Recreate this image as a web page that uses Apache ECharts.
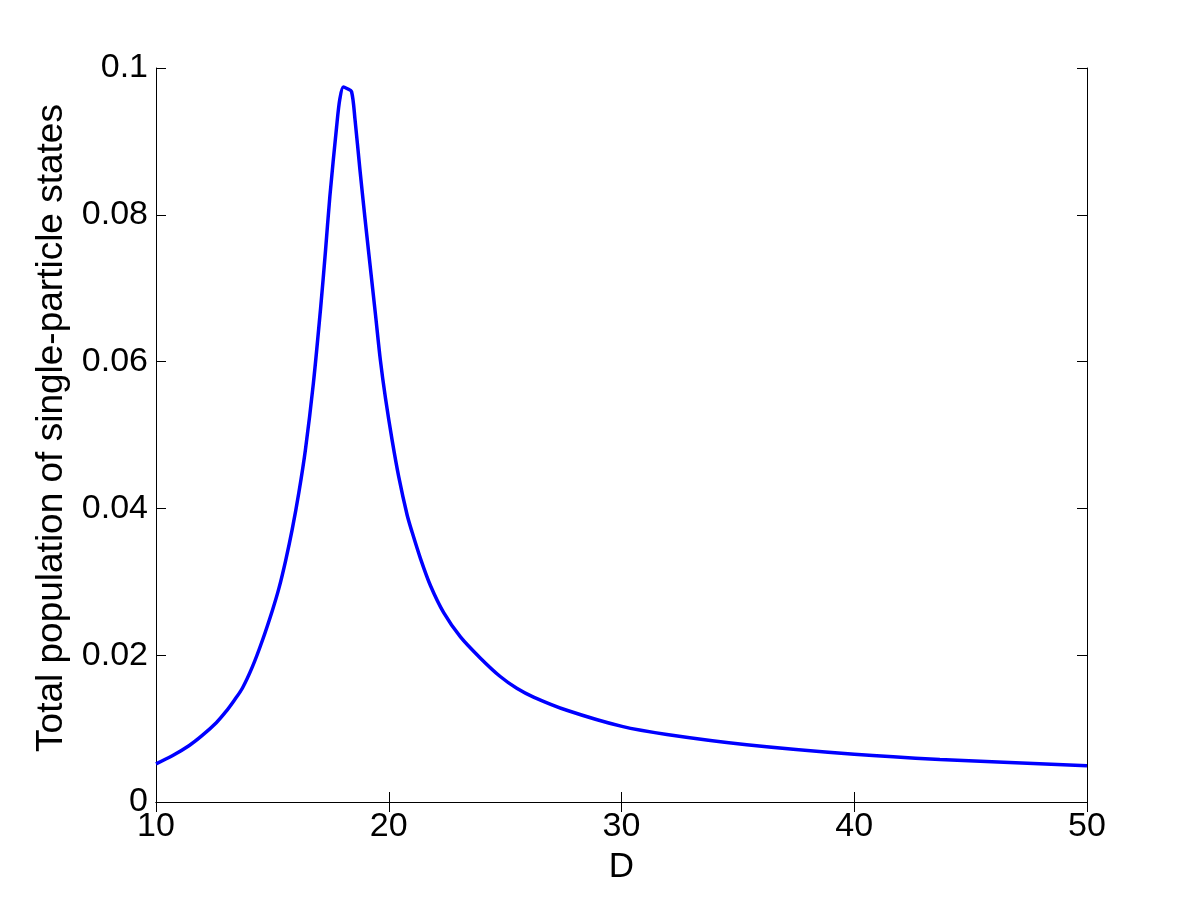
<!DOCTYPE html>
<html>
<head>
<meta charset="utf-8">
<script src="https://cdn.jsdelivr.net/npm/echarts@6/dist/echarts.min.js"></script>
<style>
html,body{margin:0;padding:0;background:#fff;}
#chart{width:1201px;height:901px;}
</style>
</head>
<body>
<div id="chart"></div>
<script>
const D = [10.0, 10.7, 11.43, 12.0, 12.59, 13.0, 13.35, 13.71, 14.14, 14.57, 15.0, 15.28, 15.57, 15.85, 16.14, 16.42, 16.76, 17.07, 17.28, 17.47, 17.76, 17.9, 18.05, 18.2, 18.4, 18.55, 18.76, 18.98, 19.14, 19.43, 19.64, 19.86, 20.15, 20.43, 20.79, 21.0, 21.36, 21.79, 22.36, 23.08, 23.94, 24.79, 25.5, 26.22, 27.65, 30.02, 31.95, 35.38, 40.0, 43.68, 50.0];
const population = [0.0052, 0.0063, 0.0077, 0.0091, 0.0108, 0.0123, 0.0138, 0.0155, 0.0184, 0.0220, 0.0261, 0.0291, 0.0329, 0.0371, 0.0422, 0.0480, 0.0570, 0.0672, 0.0750, 0.0825, 0.0920, 0.0958, 0.0974, 0.0972, 0.0968, 0.0930, 0.0862, 0.0795, 0.0748, 0.0664, 0.0602, 0.0550, 0.0492, 0.0443, 0.0391, 0.0368, 0.0332, 0.0295, 0.0258, 0.0225, 0.0196, 0.0171, 0.0155, 0.0143, 0.0125, 0.0103, 0.0092, 0.0078, 0.0065, 0.0058, 0.00495];
const xTicks = [10, 20, 30, 40, 50];
const yTicks = [0, 0.02, 0.04, 0.06, 0.08, 0.1];
const xTitle = 'D';
const yTitle = 'Total population of single-particle states';

const FONT = "'Liberation Sans', Arial, sans-serif";
const data = D.map((d, i) => [d, population[i]]);
const lineStyle = { color: '#000', width: 1 };
const tick = { show: true, inside: true, length: 10, lineStyle: { color: '#000', width: 1 } };

const chart = echarts.init(document.getElementById('chart'), null, { renderer: 'canvas' });
chart.setOption({
  backgroundColor: '#fff',
  animation: false,
  grid: { left: 156, right: 114, top: 68, bottom: 99, containLabel: false },
  xAxis: [{
    type: 'value', position: 'bottom',
    min: xTicks[0], max: xTicks[xTicks.length - 1], interval: xTicks[1] - xTicks[0],
    axisLine: { show: true, lineStyle: lineStyle },
    axisTick: tick, splitLine: { show: false },
    axisLabel: { color: '#000', fontFamily: FONT, fontSize: 34, margin: 8 },
    name: xTitle, nameLocation: 'middle', nameGap: 48,
    nameTextStyle: { color: '#000', fontFamily: FONT, fontSize: 35 }
  }, {
    type: 'value', position: 'top',
    min: xTicks[0], max: xTicks[xTicks.length - 1], interval: xTicks[1] - xTicks[0],
    axisLine: { show: true, lineStyle: lineStyle },
    axisTick: tick, splitLine: { show: false }, axisLabel: { show: false }
  }],
  yAxis: [{
    type: 'value', position: 'left',
    min: yTicks[0], max: yTicks[yTicks.length - 1], interval: yTicks[1] - yTicks[0],
    axisLine: { show: true, lineStyle: lineStyle },
    axisTick: tick, splitLine: { show: false },
    axisLabel: { color: '#000', fontFamily: FONT, fontSize: 34, margin: 8,
      formatter: v => String(+v.toFixed(4)) },
    name: yTitle, nameLocation: 'middle', nameGap: 86,
    nameTextStyle: { color: '#000', fontFamily: FONT, fontSize: 37, padding: [0, 0, 0, 14] }
  }, {
    type: 'value', position: 'right',
    min: yTicks[0], max: yTicks[yTicks.length - 1], interval: yTicks[1] - yTicks[0],
    axisLine: { show: true, lineStyle: lineStyle },
    axisTick: tick, splitLine: { show: false }, axisLabel: { show: false }
  }],
  series: [{
    type: 'line', xAxisIndex: 0, yAxisIndex: 0,
    data: data, showSymbol: false, symbol: 'none', smooth: 0.3,
    lineStyle: { color: '#0000ff', width: 3.5 },
    silent: true
  }]
});
</script>
</body>
</html>
